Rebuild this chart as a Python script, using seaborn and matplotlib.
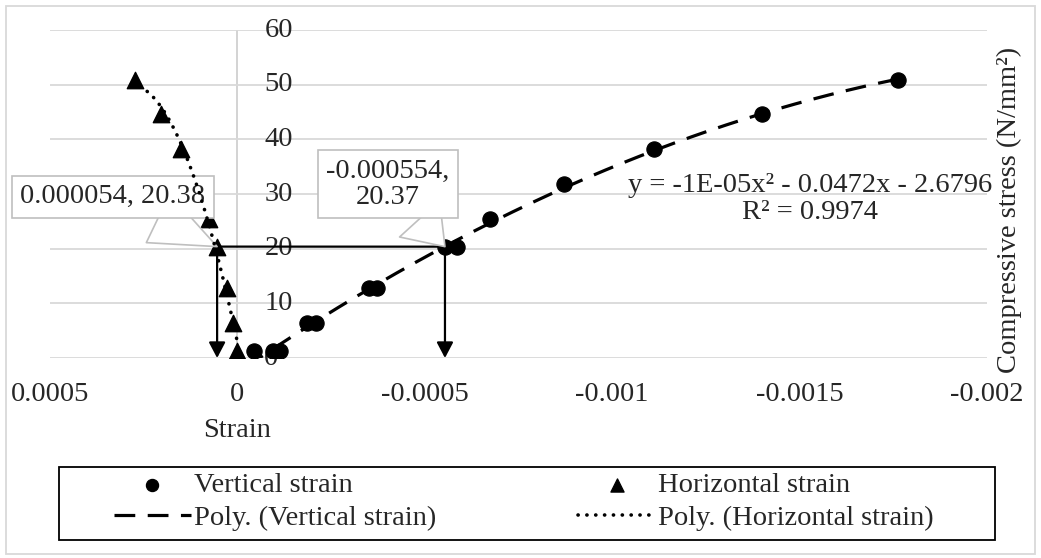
import numpy as np
import pandas as pd
import seaborn as sns
import matplotlib.pyplot as plt
from matplotlib.patches import Rectangle
from matplotlib import transforms

# data (strain, stress in N/mm2)
vert_strain = [-4.5e-5, -9.6e-5, -1.15e-4, -1.87e-4, -2.1e-4, -3.52e-4, -3.73e-4,
               -5.54e-4, -5.87e-4, -6.73e-4, -8.71e-4, -1.113e-3, -1.401e-3, -1.764e-3]
vert_stress = [1.2, 1.2, 1.2, 6.4, 6.4, 12.8, 12.8,
               20.37, 20.37, 25.5, 31.8, 38.2, 44.6, 50.9]
horiz_strain = [2e-6, 1.1e-5, 2.7e-5, 5.4e-5, 7.5e-5, 1.12e-4, 1.50e-4, 2.03e-4, 2.73e-4]
horiz_stress = [1.2, 6.4, 12.8, 20.38, 25.5, 31.8, 38.2, 44.6, 50.9]

x_ticks = [0.0005, 0, -0.0005, -0.001, -0.0015, -0.002]
x_tick_labels = ['0.0005', '0', '-0.0005', '-0.001', '-0.0015', '-0.002']
y_ticks = [0, 10, 20, 30, 40, 50, 60]

eq_text = 'y = -1E-05x² - 0.0472x - 2.6796\nR² = 0.9974'
label_h = '0.000054, 20.38'
label_v = '-0.000554,\n20.37'

FS = 20.5
sns.set_theme(style='white')
plt.rcParams['font.family'] = ['Liberation Serif', 'DejaVu Serif']
plt.rcParams.update({'font.size': FS, 'xtick.labelsize': FS, 'ytick.labelsize': FS,
                     'legend.fontsize': FS, 'axes.labelsize': FS})

fig = plt.figure(figsize=(10.41, 5.58), dpi=100)
ax = fig.add_axes([0.048, 0.3584, 0.900, 0.5878])

# outer chart border
fig.patches.append(Rectangle((0.006, 0.008), 0.988, 0.982, transform=fig.transFigure,
                             fill=False, ec='#d9d9d9', lw=1.3))

# polynomial trendlines (order 2), like excel does
pv = np.polyfit(vert_strain, vert_stress, 2)
xv = np.linspace(min(vert_strain), max(vert_strain), 300)
trend_v = pd.DataFrame({'x': xv, 'y': np.polyval(pv, xv)})
ph = np.polyfit(horiz_strain, horiz_stress, 2)
xh = np.linspace(min(horiz_strain), max(horiz_strain), 300)
trend_h = pd.DataFrame({'x': xh, 'y': np.polyval(ph, xh)})

sns.scatterplot(x=vert_strain, y=vert_stress, marker='o', s=120, color='black',
                edgecolor='black', label='Vertical strain', ax=ax, zorder=3)
sns.lineplot(data=trend_v, x='x', y='y', color='black', lw=2.3, linestyle=(0, (6.5, 3.9)),
             label='Poly. (Vertical strain)', ax=ax, zorder=4)
sns.scatterplot(x=horiz_strain, y=horiz_stress, marker='^', s=140, color='black',
                edgecolor='black', label='Horizontal strain', ax=ax, zorder=3)
sns.lineplot(data=trend_h, x='x', y='y', color='black', lw=2.6, linestyle=(0, (0.05, 2.4)),
             dash_capstyle='round', label='Poly. (Horizontal strain)', ax=ax, zorder=6)

# y axis line sits at strain = 0
ax.axvline(0, color='#d0d0d0', lw=1.3, zorder=0)

# guide lines with arrows
hx, hy = horiz_strain[3], horiz_stress[3]
vx, vy = vert_strain[7], vert_stress[7]
ax.plot([hx, vx], [hy, vy], color='black', lw=1.6, zorder=2)
for px, py in [(hx, hy), (vx, vy)]:
    ax.annotate('', xy=(px, 0), xytext=(px, py),
                arrowprops=dict(arrowstyle='-|>,head_length=0.95,head_width=0.5',
                                mutation_scale=10, color='black', lw=1.6,
                                shrinkA=0, shrinkB=0), zorder=2)

# data labels
box = dict(boxstyle='square,pad=0.3', fc='white', ec='#bfbfbf', lw=1.2)
wedge = dict(arrowstyle='wedge,tail_width=1.9', fc='white', ec='#bfbfbf', lw=1.2,
             shrinkA=0, shrinkB=0)
ax.annotate(label_h, xy=(hx, hy), xytext=(-75, 36), textcoords='offset points',
            ha='center', va='center', bbox=box, arrowprops=wedge, zorder=5)
ax.annotate(label_v, xy=(vx, vy), xytext=(-41, 45), textcoords='offset points',
            ha='center', va='center', bbox=box, arrowprops=wedge, zorder=5,
            linespacing=1.05)

ax.text(0.811, 0.485, eq_text, transform=ax.transAxes, ha='center', va='center',
        linespacing=1.1, zorder=5)

ax.set_xlim(0.0005, -0.002)
ax.set_ylim(0, 60)
ax.set_xticks(x_ticks)
ax.set_xticklabels(x_tick_labels)
ax.set_yticks(y_ticks)
ax.set_yticklabels([])
ax.tick_params(axis='x', length=0, pad=17)
ax.tick_params(axis='y', length=0)
ax.grid(axis='y', color='#d9d9d9', lw=1.3)
ax.grid(axis='x', visible=False)
for s in ax.spines.values():
    s.set_visible(False)
ax.set_facecolor('none')
ax.set_xlabel('')
ax.set_ylabel('')

# y tick labels sit right of the y axis line
tr = transforms.offset_copy(ax.transData, fig=fig, x=27, y=0, units='dots')
for v in y_ticks:
    ax.text(0, v, str(v), transform=tr, ha='left', va='center', zorder=1)

tr2 = transforms.blended_transform_factory(ax.transData, fig.transFigure)
ax.text(0, 0.229, 'Strain', transform=tr2, ha='center', va='center')
fig.text(0.970, 0.624, 'Compressive stress (N/mm²)', rotation=90, ha='center', va='center')

handles, labels = ax.get_legend_handles_labels()
ax.get_legend().remove()
leg = fig.legend(handles, labels, ncol=2, loc='center', bbox_to_anchor=(0.503, 0.101),
                 frameon=False, handlelength=2.7, handletextpad=0.1, columnspacing=5.0,
                 labelspacing=0.23, borderpad=0.2, markerscale=0.8)
fig.patches.append(Rectangle((0.057, 0.032), 0.899, 0.131, transform=fig.transFigure,
                             fill=False, ec='black', lw=1.3))

fig.savefig('out.png', dpi=100)
